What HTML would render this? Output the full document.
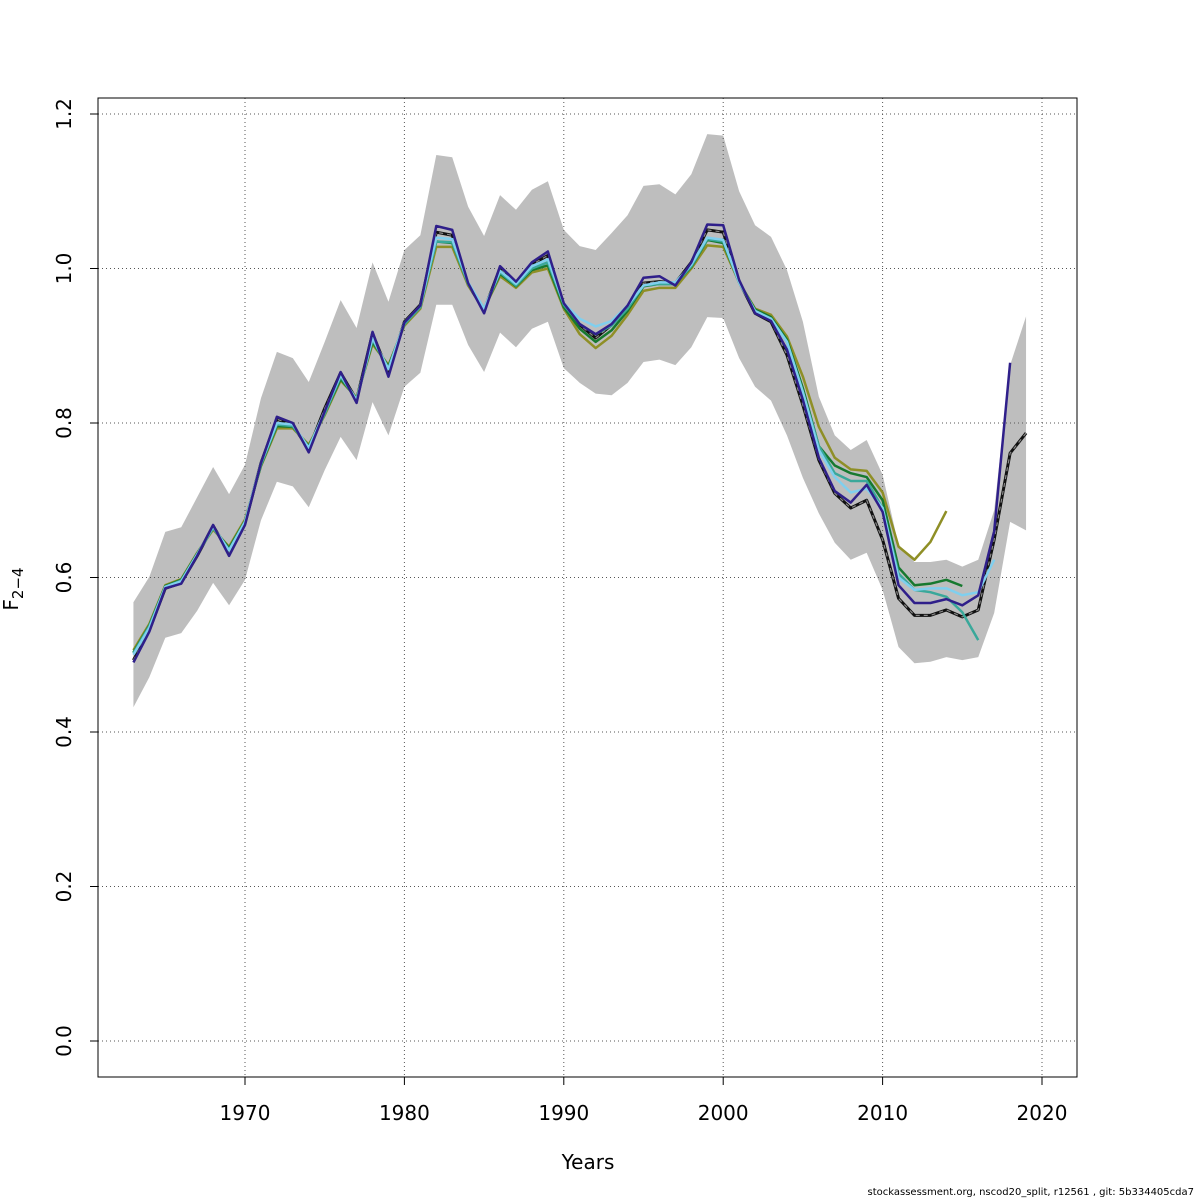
<!DOCTYPE html>
<html><head><meta charset="utf-8"><style>
body{margin:0;background:#fff}
svg{display:block;font-family:"DejaVu Sans","Liberation Sans",sans-serif}
</style></head><body>
<svg id="chart" width="1200" height="1200" viewBox="0 0 1200 1200">
<rect width="1200" height="1200" fill="#fff"/>
</svg>
<script>
const years=[];for(let y=1963;y<=2019;y++)years.push(y);
const xTicks=[1970,1980,1990,2000,2010,2020];
const yTicks=[0,0.2,0.4,0.6,0.8,1.0,1.2];
const yTickLabels=["0.0","0.2","0.4","0.6","0.8","1.0","1.2"];
const upper=[0.568,0.601,0.659,0.665,0.704,0.743,0.708,0.746,0.832,0.892,0.884,0.853,0.905,0.959,0.923,1.008,0.957,1.024,1.043,1.147,1.144,1.080,1.042,1.095,1.076,1.102,1.113,1.050,1.029,1.024,1.046,1.069,1.107,1.109,1.096,1.122,1.174,1.172,1.100,1.056,1.041,0.998,0.931,0.834,0.784,0.765,0.778,0.733,0.642,0.620,0.620,0.623,0.614,0.623,0.687,0.875,0.938];
const lower=[0.432,0.471,0.522,0.528,0.557,0.593,0.564,0.597,0.674,0.724,0.718,0.691,0.739,0.782,0.752,0.827,0.784,0.847,0.865,0.953,0.953,0.901,0.866,0.917,0.898,0.922,0.931,0.871,0.852,0.838,0.836,0.852,0.879,0.882,0.875,0.898,0.937,0.936,0.884,0.847,0.829,0.784,0.729,0.683,0.645,0.623,0.632,0.584,0.510,0.489,0.491,0.497,0.493,0.497,0.554,0.672,0.661];
const base=[0.493,0.532,0.586,0.593,0.628,0.667,0.632,0.670,0.748,0.805,0.797,0.766,0.819,0.865,0.830,0.916,0.865,0.931,0.953,1.047,1.043,0.979,0.946,1.001,0.981,1.005,1.017,0.953,0.927,0.910,0.927,0.950,0.981,0.983,0.981,1.008,1.050,1.047,0.983,0.942,0.931,0.888,0.823,0.752,0.709,0.690,0.700,0.649,0.573,0.551,0.551,0.558,0.549,0.558,0.649,0.761,0.787];
const peel1=[0.490,0.530,0.586,0.592,0.628,0.668,0.628,0.668,0.748,0.808,0.800,0.762,0.815,0.866,0.826,0.918,0.860,0.930,0.952,1.055,1.050,0.981,0.942,1.003,0.983,1.008,1.022,0.955,0.928,0.915,0.928,0.952,0.988,0.990,0.978,1.008,1.057,1.056,0.985,0.942,0.932,0.895,0.830,0.755,0.712,0.697,0.720,0.685,0.590,0.567,0.567,0.572,0.564,0.577,0.660,0.878];
const peel2=[0.500,0.535,0.588,0.595,0.630,0.666,0.635,0.672,0.748,0.800,0.798,0.768,0.815,0.862,0.830,0.910,0.870,0.930,0.952,1.040,1.038,0.982,0.948,0.997,0.980,1.003,1.012,0.955,0.935,0.925,0.932,0.952,0.978,0.982,0.982,1.005,1.040,1.037,0.982,0.945,0.935,0.905,0.840,0.765,0.730,0.710,0.715,0.690,0.600,0.584,0.586,0.586,0.577,0.581,0.623];
const peel3=[0.502,0.537,0.588,0.596,0.630,0.664,0.636,0.672,0.746,0.798,0.796,0.768,0.812,0.860,0.830,0.908,0.870,0.928,0.950,1.035,1.034,0.980,0.948,0.995,0.978,1.000,1.008,0.953,0.928,0.915,0.926,0.948,0.978,0.980,0.980,1.003,1.038,1.035,0.982,0.945,0.935,0.905,0.840,0.770,0.735,0.725,0.725,0.690,0.605,0.584,0.581,0.575,0.555,0.519];
const peel4=[0.503,0.538,0.589,0.597,0.631,0.664,0.638,0.673,0.745,0.796,0.795,0.770,0.812,0.857,0.832,0.905,0.873,0.928,0.950,1.035,1.033,0.980,0.948,0.993,0.977,0.998,1.004,0.950,0.922,0.905,0.920,0.945,0.977,0.980,0.980,1.002,1.037,1.033,0.982,0.947,0.937,0.908,0.845,0.770,0.745,0.735,0.730,0.700,0.613,0.590,0.592,0.597,0.589];
const peel5=[0.506,0.540,0.590,0.598,0.632,0.662,0.640,0.675,0.744,0.793,0.793,0.772,0.810,0.855,0.833,0.902,0.875,0.926,0.948,1.028,1.028,0.978,0.948,0.990,0.975,0.995,1.000,0.948,0.915,0.897,0.913,0.940,0.971,0.975,0.975,1.000,1.030,1.028,0.982,0.948,0.940,0.912,0.860,0.795,0.755,0.740,0.738,0.710,0.640,0.623,0.646,0.686];

const X0=245,PX=(1042-245)/50,Y0=1041,PY=(1041-114)/1.2;
const sx=y=>X0+(y-1970)*PX, sy=v=>Y0-v*PY;
const svg=document.getElementById('chart');const NS='http://www.w3.org/2000/svg';
function mk(t,a,p){const e=document.createElementNS(NS,t);for(const k in a)e.setAttribute(k,a[k]);(p||svg).appendChild(e);return e;}

let pts=years.map((y,i)=>sx(y)+','+sy(upper[i]));
for(let i=years.length-1;i>=0;i--)pts.push(sx(years[i])+','+sy(lower[i]));
const band=mk('polygon',{points:pts.join(' '),fill:'#bebebe'});



xTicks.forEach(t=>{const g=mk('line',{x1:sx(t),x2:sx(t),y1:98,y2:1077,stroke:'#555','stroke-dasharray':'1,3','stroke-width':1});

});
yTicks.forEach(t=>{const g=mk('line',{x1:98,x2:1077,y1:sy(t),y2:sy(t),stroke:'#555','stroke-dasharray':'1,3','stroke-width':1});

});

function line(arr,color,name,w){const d=arr.map((v,i)=>(i?'L':'M')+sx(years[i])+','+sy(v)).join('');
const p=mk('path',{d:d,fill:'none',stroke:color,'stroke-width':w||2.5,'stroke-linejoin':'round'});

return d;}
const bd=line(base,'#111','estimate-line',3);
const dash=mk('path',{d:bd,fill:'none',stroke:'#888','stroke-width':1.2,'stroke-dasharray':'4,4'});


line(peel5,'#8f8f26','peel-2014');
line(peel4,'#17792f','peel-2015');
line(peel3,'#3aa89a','peel-2016');
line(peel2,'#80cfee','peel-2017');
line(peel1,'#2f1f8a','peel-2018');

const box=mk('rect',{x:98,y:98,width:979,height:979,fill:'none',stroke:'#000','stroke-width':1});


xTicks.forEach(t=>{mk('line',{x1:sx(t),x2:sx(t),y1:1077,y2:1085,stroke:'#000'});
const tx=mk('text',{x:sx(t),y:1120,'text-anchor':'middle','font-size':20});tx.textContent=t;

});
yTicks.forEach((t,i)=>{mk('line',{x1:90,x2:98,y1:sy(t),y2:sy(t),stroke:'#000'});
const tx=mk('text',{x:0,y:0,'text-anchor':'middle','font-size':20,transform:`translate(71,${sy(t)}) rotate(-90)`});tx.textContent=yTickLabels[i];

});
</script>
<div style="position:absolute;left:0;top:0;width:1200px;height:1200px;pointer-events:none">
<div style="position:absolute;left:528px;top:1150px;width:120px;text-align:center;font:20px 'DejaVu Sans',sans-serif">Years</div>
<div style="position:absolute;left:-22px;top:575px;width:70px;text-align:center;transform:rotate(-90deg);font:20px 'DejaVu Sans',sans-serif"><span style="text-decoration:overline">F</span><sub style="font-size:15px">2−4</sub></div>
<div style="position:absolute;right:6px;top:1187px;font:10px 'DejaVu Sans',sans-serif;white-space:nowrap">stockassessment.org, nscod20_split, r12561 , git: 5b334405cda7</div>
</div>
</body></html>
